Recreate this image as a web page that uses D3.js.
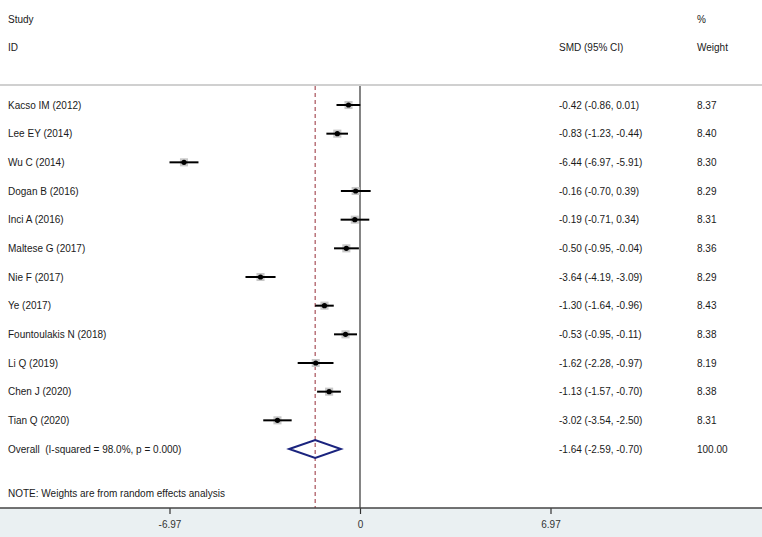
<!DOCTYPE html>
<html>
<head>
<meta charset="utf-8">
<script src="https://cdn.jsdelivr.net/npm/d3@7"></script>
<style>
body{margin:0;background:#fff;}
svg{display:block;font-family:"Liberation Sans",Arial,sans-serif;}
</style>
</head>
<body>
<svg width="762" height="537"></svg>
<script>
"use strict";

var studies=["Kacso IM (2012)","Lee EY (2014)","Wu C (2014)","Dogan B (2016)","Inci A (2016)","Maltese G (2017)","Nie F (2017)","Ye (2017)","Fountoulakis N (2018)","Li Q (2019)","Chen J (2020)","Tian Q (2020)"];
var smd=[-0.42,-0.83,-6.44,-0.16,-0.19,-0.50,-3.64,-1.30,-0.53,-1.62,-1.13,-3.02];
var lower=[-0.86,-1.23,-6.97,-0.70,-0.71,-0.95,-4.19,-1.64,-0.95,-2.28,-1.57,-3.54];
var upper=[0.01,-0.44,-5.91,0.39,0.34,-0.04,-3.09,-0.96,-0.11,-0.97,-0.70,-2.50];
var weights=[8.37,8.40,8.30,8.29,8.31,8.36,8.29,8.43,8.38,8.19,8.38,8.31];
var overall={smd:-1.64,lower:-2.59,upper:-0.70,weight:100.00};
var tickVals=[-6.97,0,6.97];

var svg=d3.select("svg");
var xScale=d3.scaleLinear().domain([-6.97,6.97]).range([169.5,550.5]);
var yScale=d3.scaleLinear().domain([0,12]).range([105,449]);

// plain hyphen instead of unicode minus
function fmt(v){return d3.format(".2f")(v).replace("\u2212","-");}
function ciText(m,l,u){return fmt(m)+" ("+fmt(l)+", "+fmt(u)+")";}

// bottom band
svg.append("rect").attr("x",0).attr("y",508).attr("width",762).attr("height",29).attr("fill","#eaf0f2");

// header
var txt=svg.append("g").attr("font-size","10px").attr("fill","#1a1a1a");
txt.append("text").attr("x",8).attr("y",23).text("Study");
txt.append("text").attr("x",8).attr("y",51).text("ID");
txt.append("text").attr("x",559).attr("y",51).text("SMD (95% CI)");
txt.append("text").attr("x",697).attr("y",23).text("%");
txt.append("text").attr("x",697).attr("y",51).text("Weight");

svg.append("line").attr("x1",0).attr("x2",762).attr("y1",85).attr("y2",85)
	.attr("stroke","#d0d0d0").attr("stroke-width",2);

// reference lines
svg.append("line").attr("x1",xScale(0)).attr("x2",xScale(0)).attr("y1",86).attr("y2",508)
	.attr("stroke","#333").attr("stroke-width",1.2);
svg.append("line").attr("x1",xScale(overall.smd)).attr("x2",xScale(overall.smd)).attr("y1",86).attr("y2",508)
	.attr("stroke","#a8505a").attr("stroke-width",1.2).attr("stroke-dasharray","4,3");

// study rows
var rows=svg.append("g");
studies.forEach(function(s,i){
	var y=yScale(i);
	var bs=Math.sqrt(weights[i])*2.8;
	rows.append("rect").attr("x",xScale(smd[i])-bs/2).attr("y",y-bs/2).attr("width",bs).attr("height",bs)
		.attr("fill","#c8c8c8");
	rows.append("line").attr("x1",xScale(lower[i])).attr("x2",xScale(upper[i])).attr("y1",y).attr("y2",y)
		.attr("stroke","#000").attr("stroke-width",2);
	rows.append("circle").attr("cx",xScale(smd[i])).attr("cy",y).attr("r",2.6).attr("fill","#000");
	txt.append("text").attr("x",8).attr("y",y+3.5).text(s);
	txt.append("text").attr("x",559).attr("y",y+3.5).text(ciText(smd[i],lower[i],upper[i]));
	txt.append("text").attr("x",697).attr("y",y+3.5).text(fmt(weights[i]));
});

// overall diamond
var oy=yScale(12);
svg.append("path")
	.attr("d","M"+xScale(overall.lower)+","+oy+"L"+xScale(overall.smd)+","+(oy-9)+"L"+xScale(overall.upper)+","+oy+"L"+xScale(overall.smd)+","+(oy+9)+"Z")
	.attr("fill","none").attr("stroke","#1a237e").attr("stroke-width",2);
txt.append("text").attr("x",8).attr("y",oy+3.5).text("Overall\u00a0 (I-squared = 98.0%, p = 0.000)");
txt.append("text").attr("x",559).attr("y",oy+3.5).text(ciText(overall.smd,overall.lower,overall.upper));
txt.append("text").attr("x",697).attr("y",oy+3.5).text(fmt(overall.weight));

txt.append("text").attr("x",8).attr("y",497).text("NOTE: Weights are from random effects analysis");

// axis
var axis=svg.append("g").attr("transform","translate(0,508)")
	.call(d3.axisBottom(xScale).tickValues(tickVals).tickSize(6).tickFormat(function(d){return d===0?"0":fmt(d);}));
axis.select(".domain").remove();
axis.selectAll(".tick line").attr("stroke","#333").attr("stroke-width",1.2);
axis.selectAll(".tick text").attr("font-size","10px").attr("fill","#333").attr("font-family","Liberation Sans, Arial, sans-serif").attr("dy","1.1em");
svg.append("line").attr("x1",0).attr("x2",762).attr("y1",508).attr("y2",508).attr("stroke","#444").attr("stroke-width",1.5);
</script>
</body>
</html>
